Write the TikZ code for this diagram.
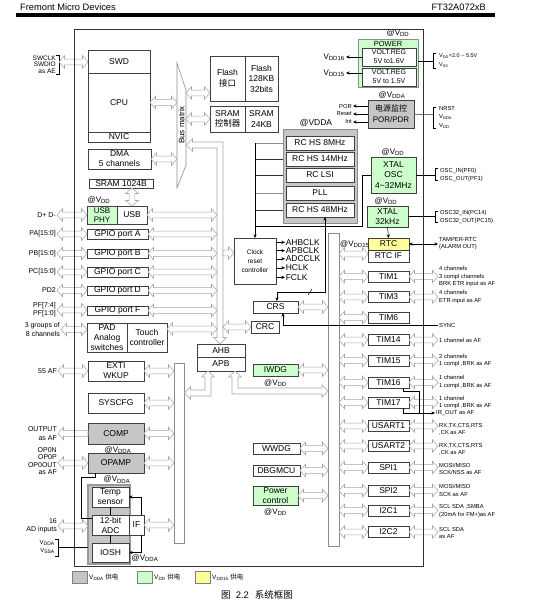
\documentclass[tikz,border=0pt]{standalone}
\usepackage{fontspec}
\setmainfont{Liberation Sans}
\newfontfamily\cjk{Noto Sans CJK SC}
\usetikzlibrary{arrows.meta,calc}
\definecolor{gfill}{HTML}{CCFFCC}
\definecolor{yfill}{HTML}{FFFF99}
\definecolor{afill}{HTML}{C6C6C6}
\definecolor{aline}{HTML}{A8A8A8}
\definecolor{bline}{HTML}{404040}
\newcommand\fsz[2]{\fontsize{#1}{#2}\selectfont}
\newcommand\sbs[1]{\textsubscript{#1}}
\def\fahl{5.5pt}\def\fahw{6.3pt}\def\fasw{2.8pt}
\newcommand\fatLR[2]{\draw[fat] let \p1=#1, \p2=#2 in (\x1,\y1) -- (\x1+\fahl,\y1+\fahw) -- (\x1+\fahl,\y1+\fasw) -- (\x2-\fahl,\y1+\fasw) -- (\x2-\fahl,\y1+\fahw) -- (\x2,\y1) -- (\x2-\fahl,\y1-\fahw) -- (\x2-\fahl,\y1-\fasw) -- (\x1+\fahl,\y1-\fasw) -- (\x1+\fahl,\y1-\fahw) -- cycle;}
\newcommand\fatR[2]{\draw[fat] let \p1=#1, \p2=#2 in (\x1,\y1+\fasw) -- (\x2-\fahl,\y1+\fasw) -- (\x2-\fahl,\y1+\fahw) -- (\x2,\y1) -- (\x2-\fahl,\y1-\fahw) -- (\x2-\fahl,\y1-\fasw) -- (\x1,\y1-\fasw) -- cycle;}
\newcommand\fatL[2]{\draw[fat] let \p1=#1, \p2=#2 in (\x1,\y1) -- (\x1+\fahl,\y1+\fahw) -- (\x1+\fahl,\y1+\fasw) -- (\x2,\y1+\fasw) -- (\x2,\y1-\fasw) -- (\x1+\fahl,\y1-\fasw) -- (\x1+\fahl,\y1-\fahw) -- cycle;}
\newcommand\fatV[2]{\draw[fat] let \p1=#1, \p2=#2 in (\x1,\y1) -- (\x1+\fahw,\y1-\fahl) -- (\x1+\fasw,\y1-\fahl) -- (\x1+\fasw,\y2+\fahl) -- (\x1+\fahw,\y2+\fahl) -- (\x1,\y2) -- (\x1-\fahw,\y2+\fahl) -- (\x1-\fasw,\y2+\fahl) -- (\x1-\fasw,\y1-\fahl) -- (\x1-\fahw,\y1-\fahl) -- cycle;}
\newcommand\bx[7][]{\node[box,#1,minimum width={(#4-#2)*1pt},minimum height={(#5-#3)*1pt}] (#7) at ({(#2+#4)/2},{(#3+#5)/2}) {#6};}
\tikzset{
 box/.style={draw=bline,line width=0.6pt,fill=white,inner sep=0pt,outer sep=0pt,align=center,font=\fsz{8.5}{10.2}},
 gbox/.style={fill=gfill},
 abox/.style={fill=afill},
 ybox/.style={fill=yfill},
 busbox/.style={draw=black!45,line width=0.6pt},
 pbox/.style={box,minimum width=41pt,minimum height=11pt},
 fat/.style={draw=aline,fill=white,line width=0.55pt},
 lbl/.style={inner sep=1pt,align=right,anchor=east,font=\fsz{7}{8.2}},
 rl/.style={inner sep=1pt,align=left,anchor=west,font=\fsz{5.8}{7.2}},
 vdd/.style={inner sep=0.5pt,font=\fsz{8}{8}},
 arr/.style={-{Stealth[length=3.6pt,width=3.2pt]},line width=0.5pt},
 dblarr/.style={{Stealth[length=3.6pt,width=3.2pt]}-{Stealth[length=3.6pt,width=3.2pt]},line width=0.5pt},
 ln/.style={line width=0.5pt},
}
\begin{document}
\begin{tikzpicture}[x=1pt,y=-1pt]
\useasboundingbox (0,0) rectangle (544,614);
% header
\node[anchor=west,inner sep=0pt,font=\fsz{9.3}{10}] (hdrl) at (20,7) {Fremont Micro Devices};
\node[anchor=east,inner sep=0pt,font=\fsz{9.3}{10}] (hdrr) at (486,7) {FT32A072xB};
\fill (16,13.2) rectangle (495,16.6);

% ---------- CPU & bus matrix
\bx{88}{50}{150}{73}{SWD}{swd}
\bx{88}{73}{150}{132}{CPU}{cpu}
\bx{88}{132}{150}{142}{NVIC}{nvic}
\node[lbl,font=\fsz{6.5}{6.6}] (swl) at (57,64.5) {SWCLK\\SWDIO\\as AE};
\draw[ln] (56,55.5) -| (59,74.5) -- (56,74.5);
\coordinate (swb) at (59,62);
\fatLR{(swb)}{(swd.west |- swb)}

\coordinate (bmL) at (177,0);
\coordinate (bmR) at (186,0);
\draw[draw=black!45,fill=white,line width=0.6pt] (177,63) -- (186,90) -- (186,165) -- (177,188) -- cycle;
\node[rotate=90,inner sep=0pt,font=\fsz{8}{8}] (bmt) at (181.5,125) {Bus matrix};
\fatLR{(cpu.east)}{(bmL |- cpu.east)}

\bx{88}{149}{151}{169}{DMA\\5 channels}{dma}
\fatLR{(dma.east)}{(bmL |- dma.east)}

\bx[font=\fsz{8.5}{10.5}]{210}{56}{245}{101}{Flash\\{\cjk 接口}}{flif}
\bx[font=\fsz{8.5}{10.5}]{245}{56}{278}{101}{Flash\\128KB\\32bits}{flash}
\bx{210}{106}{245}{132}{SRAM\\{\cjk 控制器}}{sramc}
\bx{245}{106}{278}{132}{SRAM\\24KB}{sram}
\fatLR{(bmR |- 0,93)}{(flif.west |- 0,93)}
\fatLR{(bmR |- sramc.west)}{(sramc.west)}

% main bus
\coordinate (mbL) at (217,0);
\coordinate (mbR) at (223,0);
\draw[fat] (186.5,145) -- (192.5,138.7) -- (192.5,142) -- (223,142) -- (223,337.5) -- (226.3,337.5) -- (220,344) -- (213.7,337.5) -- (217,337.5) -- (217,148) -- (192.5,148) -- (192.5,151.3) -- cycle;

% ---------- left column
\bx{89}{179}{153}{188}{SRAM 1024B}{sramb}
\node[vdd] (vusb) at (99,200) {@V\sbs{DD}};
\bx[gbox,font=\fsz{8}{9.5}]{87}{206}{117}{224}{USB\\PHY}{usbphy}
\bx{117}{206}{147}{224}{USB}{usb}
\fatV{(sramb.south -| usb.north)}{(usb.north)}
\node[lbl] (dpl) at (57,215) {D+ D-};
\fatLR{(dpl.east)}{(usbphy.west)}
\fatLR{(usb.east)}{(mbL |- usb.east)}

\bx{87}{229}{148}{239}{GPIO port A}{gpa}
\bx{87}{249}{148}{258}{GPIO port B}{gpb}
\bx{87}{267}{148}{277}{GPIO port C}{gpc}
\bx{87}{286}{148}{295}{GPIO port D}{gpd}
\bx{87}{306}{148}{315}{GPIO port F}{gpf}
\node[lbl] (pal) at (57,234) {PA[15:0]};
\node[lbl] (pbl) at (57,253.5) {PB[15:0]};
\node[lbl] (pcl) at (57,272) {PC[15:0]};
\node[lbl] (pdl) at (57,290.5) {PD2};
\node[lbl] (pfl) at (57,310) {PF[7:4]\\PF[1:0]};
\fatLR{(pal.east)}{(gpa.west)}
\fatLR{(pbl.east)}{(gpb.west)}
\fatLR{(pcl.east)}{(gpc.west)}
\fatLR{(pdl.east)}{(gpd.west)}
\fatLR{(pfl.east)}{(gpf.west)}
\fatLR{(gpa.east)}{(mbL |- gpa.east)}
\fatLR{(gpb.east)}{(mbL |- gpb.east)}
\fatLR{(gpc.east)}{(mbL |- gpc.east)}
\fatLR{(gpd.east)}{(mbL |- gpd.east)}
\fatLR{(gpf.east)}{(mbL |- gpf.east)}

\bx[font=\fsz{8.5}{9.8}]{87}{323}{127}{352}{PAD\\Analog\\switches}{pad}
\bx[font=\fsz{8.5}{10}]{127}{323}{167}{352}{Touch\\controller}{touch}
\node[lbl] (grl) at (61,329.5) {3 groups of\\8 channels};
\fatLR{(grl.east)}{(pad.west |- grl.east)}
\fatLR{(touch.east |- 0,329)}{(mbL |- 0,329)}

\bx[busbox]{174}{363}{184}{543}{}{lbus}
\bx{88}{361}{144}{381}{EXTI\\WKUP}{exti}
\node[lbl] (afl) at (58,371) {55 AF};
\fatLR{(afl.east)}{(exti.west |- afl.east)}
\fatLR{(exti.east)}{(lbus.west |- exti.east)}
\bx{88}{393}{144}{413}{SYSCFG}{syscfg}
\fatLR{(syscfg.east)}{(lbus.west |- syscfg.east)}
\bx[abox]{88}{423}{144}{444}{COMP}{comp}
\node[lbl] (outl) at (58,433.5) {OUTPUT\\as AF};
\fatL{(outl.east)}{(comp.west)}
\fatLR{(comp.east)}{(lbus.west |- comp.east)}
\node[vdd] (vcomp) at (118,450) {@V\sbs{DDA}};
\bx[abox]{88}{453}{144}{473}{OPAMP}{opamp}
\node[lbl,font=\fsz{7}{7.6}] (opl) at (58,461) {OP0N\\OP0P\\OP0OUT\\as AF};
\fatLR{(opl.east |- opamp.west)}{(opamp.west)}
\fatLR{(opamp.east)}{(lbus.west |- opamp.east)}
\node[vdd] (vop) at (117,479.5) {@V\sbs{DDA}};

\bx[abox,draw=black!40,line width=1.2pt]{88}{485}{130}{564}{}{adcg}
\bx[font=\fsz{8.5}{10}]{92}{487}{129}{507}{Temp\\sensor}{temp}
\bx[font=\fsz{8.5}{10}]{92}{515}{129}{535}{12-bit\\ADC}{adc}
\bx{92}{543}{129}{562}{IOSH}{iosh}
\bx{129}{515}{144}{535}{IF}{adcif}
\draw[ln] (temp.south) -- (adc.north);
\draw[ln] (adc.south) -- (iosh.north);
\draw[arr] ($(adcif.north)+(5,0)$) |- (temp.east);
\draw[arr] ($(adcif.south)+(5,0)$) |- (iosh.east);
\draw[ln] (opamp.south -| 95,0) -- ++(0,4) -| (81,518) -- (adc.west |- 0,518);
\node[lbl] (adl) at (58,526) {16\\AD inputs};
\fatLR{(adl.east)}{(adcg.west |- adl.east)}
\fatLR{(adcif.east)}{(lbus.west |- adcif.east)}
\node[lbl,font=\fsz{6}{8}] (vdal) at (56,547) {V\sbs{DDA}\\V\sbs{SSA}};
\draw[ln] (55,539) -| (58,556) -- (55,556);
\draw[ln] (58,547) -- (adcg.west |- 0,547);
\node[vdd] (vadc) at (145,558) {@V\sbs{DDA}};

% ---------- AHB/APB and middle
\bx{197}{344}{245}{357}{AHB}{ahb}
\bx{197}{357}{245}{371}{APB}{apb}
\draw[fat] (184.5,393) -- (190.5,386.7) -- (190.5,390) -- (205,390) -- (205,377) -- (201.7,377) -- (208,371) -- (214.3,377) -- (211,377) -- (211,396) -- (190.5,396) -- (190.5,399.3) -- cycle;
\draw[fat] (235,371) -- (241.3,377) -- (238,377) -- (238,388) -- (322,388) -- (322,384.7) -- (328,391) -- (322,397.3) -- (322,394) -- (232,394) -- (232,377) -- (228.7,377) -- cycle;

\bx[font=\fsz{6.5}{8.8}]{234}{238}{276}{284}{Clock\\reset\\controller}{clkc}
\fatR{(mbR |- 0,253)}{(clkc.west |- 0,253)}
\draw[arr] (clkc.east |- 0,242.3) -- ++(9,0) node[anchor=west,inner sep=0.5pt,font=\fsz{8.5}{9}] (ck1) {AHBCLK};
\draw[arr] (clkc.east |- 0,250.7) -- ++(9,0) node[anchor=west,inner sep=0.5pt,font=\fsz{8.5}{9}] (ck2) {APBCLK};
\draw[arr] (clkc.east |- 0,258.8) -- ++(9,0) node[anchor=west,inner sep=0.5pt,font=\fsz{8.5}{9}] (ck3) {ADCCLK};
\draw[arr] (clkc.east |- 0,267.8) -- ++(9,0) node[anchor=west,inner sep=0.5pt,font=\fsz{8.5}{9}] (ck4) {HCLK};
\draw[arr] (clkc.east |- 0,277.3) -- ++(9,0) node[anchor=west,inner sep=0.5pt,font=\fsz{8.5}{9}] (ck5) {FCLK};

\bx{253}{301}{298}{313}{CRS}{crs}
\bx{251}{321}{279}{333}{CRC}{crc}
\fatLR{(mbR |- crc.west)}{(crc.west)}
\bx[gbox]{253}{364}{298}{376}{IWDG}{iwdg}
\node[vdd] (viw) at (275.5,383) {@V\sbs{DD}};
\bx{253}{443}{300}{454}{WWDG}{wwdg}
\bx{253}{465}{300}{476}{DBGMCU}{dbg}
\bx[gbox]{253}{486}{298}{505}{Power\\control}{pwrc}
\node[vdd] (vpc) at (275.5,512) {@V\sbs{DD}};

% ---------- oscillators
\node[inner sep=0pt,font=\fsz{8.5}{9}] (vosc) at (316,123) {@VDDA};
\bx[abox,draw=black!45,line width=0.8pt]{283}{129}{357}{223}{}{oscg}
\bx{286}{136}{354}{150}{RC HS 8MHz}{hs8}
\bx{286}{152}{354}{166}{RC HS 14MHz}{hs14}
\bx{286}{168}{354}{182}{RC LSI}{lsi}
\bx{286}{186}{354}{200}{PLL}{pll}
\bx{286}{203}{354}{217}{RC HS 48MHz}{hs48}
\draw[ln,black!45] (clkc.north |- hs8.west) -- (oscg.west |- hs8.west);
\draw[ln,black!80] (clkc.north |- hs14.west) -- (oscg.west |- hs14.west);
\draw[ln,black!80] (clkc.north |- lsi.west) -- (oscg.west |- lsi.west);
\draw[ln,black!45] (clkc.north |- pll.west) -- (oscg.west |- pll.west);
\draw[ln,black!80] (clkc.north |- hs48.west) -- (oscg.west |- hs48.west);
\draw[arr] (clkc.north |- hs8.west) -- (clkc.north);

\node[vdd] (vxo) at (393,152) {@V\sbs{DD}};
\bx[gbox,font=\fsz{8.5}{10.2}]{371}{157}{416}{193}{XTAL\\OSC\\4\textasciitilde{}32MHz}{xosc}
\draw[ln] (xosc.west) -| (362,226) -- (clkc.north |- 0,226);
\draw[ln] (xosc.east) -- (435,175);
\draw[ln] (438,168.5) -| (435,180) -- (438,180);
\node[rl,font=\fsz{5.8}{8}] (xol) at (439,174.5) {OSC\_IN(PF0)\\OSC\_OUT(PF1)};

\node[vdd] (vx32) at (386,201) {@V\sbs{DD}};
\bx[gbox]{367}{206}{408}{227}{XTAL\\32kHz}{x32}
\draw[ln] (x32.east) -- (435,216.5);
\draw[ln] (438,211) -| (435,222.5) -- (438,222.5);
\node[rl,font=\fsz{5.8}{8}] (x32l) at (439,216.5) {OSC32\_IN(PC14)\\OSC32\_OUT(PC15)};

% CRS / 48MHz link
\draw[dblarr] (hs48.south -| 325,0) -- (325,292) -| ($(crs.north)+(1.5,0)$);
\draw[ln] (308,295) -- (312,289);

% ---------- power
\node[vdd] (vpw) at (398,33) {@V\sbs{DD}};
\bx[gbox,draw=black!45,line width=0.8pt]{358}{39}{418}{87}{}{power}
\node[inner sep=0pt,font=\fsz{7.5}{8}] (pwt) at (388,43.5) {POWER};
\bx[font=\fsz{7}{9}]{362}{48}{416}{66}{VOLT.REG\\5V to1.6V}{vr16}
\bx[font=\fsz{7}{9}]{362}{68}{416}{86}{VOLT.REG\\5V to 1.5V}{vr15}
\draw[arr] (vr16.west) -- ++(-16,0) node[anchor=east,inner sep=1pt,font=\fsz{8}{8}] (v16l) {V\sbs{DD16}};
\draw[arr] (vr15.west |- 0,73) -- ++(-16,0) node[anchor=east,inner sep=1pt,font=\fsz{8}{8}] (v15l) {V\sbs{DD15}};
\draw[ln] (power.east |- 0,61) -- (433,61);
\draw[ln] (436,53.5) -| (433,68) -- (436,68);
\node[rl,font=\fsz{5.5}{9}] (pwl) at (438,61) {V\sbs{DD}=2.0 \textasciitilde{} 5.5V\\V\sbs{SS}};

\node[vdd] (vpm) at (392,95) {@V\sbs{DDA}};
\bx[abox,font=\fsz{8}{11}]{368}{100}{414}{128}{{\cjk 电源监控}\\POR/PDR}{pmon}
\draw[arr] (pmon.west |- 0,106) -- ++(-15,0) node[anchor=east,inner sep=1pt,font=\fsz{5.8}{6}] (porl) {POR};
\draw[arr] (pmon.west |- 0,114) -- ++(-15,0) node[anchor=east,inner sep=1pt,font=\fsz{5.8}{6}] (rstl) {Reset};
\draw[arr] (pmon.west |- 0,122) -- ++(-15,0) node[anchor=east,inner sep=1pt,font=\fsz{5.8}{6}] (intl) {Int};
\draw[ln,black!55] (pmon.east) -- (433,114);
\draw[ln] (436,107) -| (433,128) -- (436,128);
\node[rl,font=\fsz{5.8}{8.5}] (pml) at (438,117) {NRST\\V\sbs{DDA}\\V\sbs{DD}};

% ---------- right bus & peripherals
\bx[busbox]{328}{233}{339}{546}{}{rbus}
\bx[ybox]{368}{238}{409}{250}{RTC}{rtc}
\bx{368}{250}{409}{262}{RTC IF}{rtcif}
\node[anchor=west,inner sep=0.5pt,font=\fsz{8}{8}] (vrtc) at (339.5,244) {@V\sbs{DD15}};
\fatLR{(rbus.east |- 0,254)}{(rtcif.west |- 0,254)}
\node[rl] (tampl) at (438,243.5) {TAMPER-RTC\\(ALARM OUT)};
\draw[dblarr] (rtc.east) -- (tampl.west |- rtc.east);
\draw[arr] (x32.south) -- (rtc.north);

\node[pbox] (tim1) at (388.5,276.5) {TIM1};
\node[pbox] (tim3) at (388.5,297) {TIM3};
\node[pbox] (tim6) at (388.5,317.5) {TIM6};
\node[pbox] (tim14) at (388.5,340) {TIM14};
\node[pbox] (tim15) at (388.5,360.5) {TIM15};
\node[pbox] (tim16) at (388.5,382.5) {TIM16};
\node[pbox] (tim17) at (388.5,402.5) {TIM17};
\node[pbox] (us1) at (388.5,426) {USART1};
\node[pbox] (us2) at (388.5,446) {USART2};
\node[pbox] (spi1) at (388.5,467.5) {SPI1};
\node[pbox] (spi2) at (388.5,490.5) {SPI2};
\node[pbox] (i2c1) at (388.5,510.5) {I2C1};
\node[pbox] (i2c2) at (388.5,532) {I2C2};

\node[rl] (l1) at (438,276.5) {4 channels\\3 compl channels\\BRK ETR input as AF};
\node[rl] (l3) at (438,297) {4 channels\\ETR input as AF};
\node[rl] (l14) at (438,340) {1 channel as AF};
\node[rl] (l15) at (438,360.5) {2 channels\\1 compl ,BRK as AF};
\node[rl] (l16) at (438,382) {1 channel\\1 compl ,BRK as AF};
\node[rl] (l17) at (438,402.5) {1 channel\\1 compl ,BRK as AF};
\node[rl] (irl) at (435,413) {IR\_OUT as AF};
\node[rl] (lu1) at (438,429) {RX,TX,CTS,RTS\\,CK as AF};
\node[rl] (lu2) at (438,449) {RX,TX,CTS,RTS\\,CK as AF};
\node[rl] (ls1) at (438,469) {MOSI/MISO\\SCK/NSS as AF};
\node[rl] (ls2) at (438,490.5) {MOSI/MISO\\SCK as AF};
\node[rl] (li1) at (438,511) {SCL SDA ,SMBA\\(20mA for FM+)as AF};
\node[rl] (li2) at (438,533) {SCL SDA\\as AF};

\foreach \pn in {tim1,tim3,tim6,tim14,tim15,tim16,tim17,us1,us2,spi1,spi2,i2c1,i2c2}{
  \fatLR{(rbus.east |- \pn.west)}{(\pn.west)}
}
\fatLR{(tim1.east)}{(l1.west)}
\fatLR{(tim3.east)}{(l3.west)}
\fatLR{(tim14.east)}{(l14.west)}
\fatLR{(tim15.east)}{(l15.west)}
\fatLR{(tim16.east)}{(l16.west)}
\fatLR{(tim17.east)}{(l17.west)}
\fatLR{(us1.east)}{(lu1.west)}
\fatLR{(us2.east)}{(lu2.west)}
\fatLR{(spi1.east)}{(ls1.west)}
\fatLR{(spi2.east)}{(ls2.west)}
\fatLR{(i2c1.east)}{(li1.west)}
\fatLR{(i2c2.east)}{(li2.west)}

\fatLR{(crs.east)}{(rbus.west |- crs.east)}
\fatLR{(iwdg.east)}{(rbus.west |- iwdg.east)}
\fatLR{(wwdg.east)}{(rbus.west |- wwdg.east)}
\fatLR{(dbg.east)}{(rbus.west |- dbg.east)}
\fatLR{(pwrc.east)}{(rbus.west |- pwrc.east)}

\coordinate (irj) at (419,413);
\draw[ln] ($(tim16.south)+(14.5,0)$) -- ++(0,3) -| (irj);
\draw[arr] ($(tim17.south)+(14.5,0)$) |- (irl.west);

\node[rl] (syncl) at (438,325) {SYNC};
\draw[arr] (syncl.west) -| ($(crs.south)+(7.5,0)$);

% frame
\draw[line width=0.6pt,black!80] (74,29) rectangle (423,566);

% legend
\draw[fill=afill,draw=black!50] (72,571) rectangle (87,583);
\node[anchor=west,inner sep=0.5pt,font=\fsz{6.5}{7}] (lg1) at (88.5,577.5) {V\sbs{DDA} {\cjk 供电}};
\draw[fill=gfill,draw=black!50] (137,571) rectangle (152,583);
\node[anchor=west,inner sep=0.5pt,font=\fsz{6.5}{7}] (lg2) at (153.5,577.5) {V\sbs{DD} {\cjk 供电}};
\draw[fill=yfill,draw=black!50] (195,571) rectangle (210,583);
\node[anchor=west,inner sep=0.5pt,font=\fsz{6.5}{7}] (lg3) at (211.5,577.5) {V\sbs{DD15} {\cjk 供电}};

\node[inner sep=0pt,font=\fsz{9.5}{10}] (cap) at (257,595) {{\cjk 图}\ \ 2.2\hspace{6pt}{\cjk 系统框图}};
\end{tikzpicture}
\end{document}
